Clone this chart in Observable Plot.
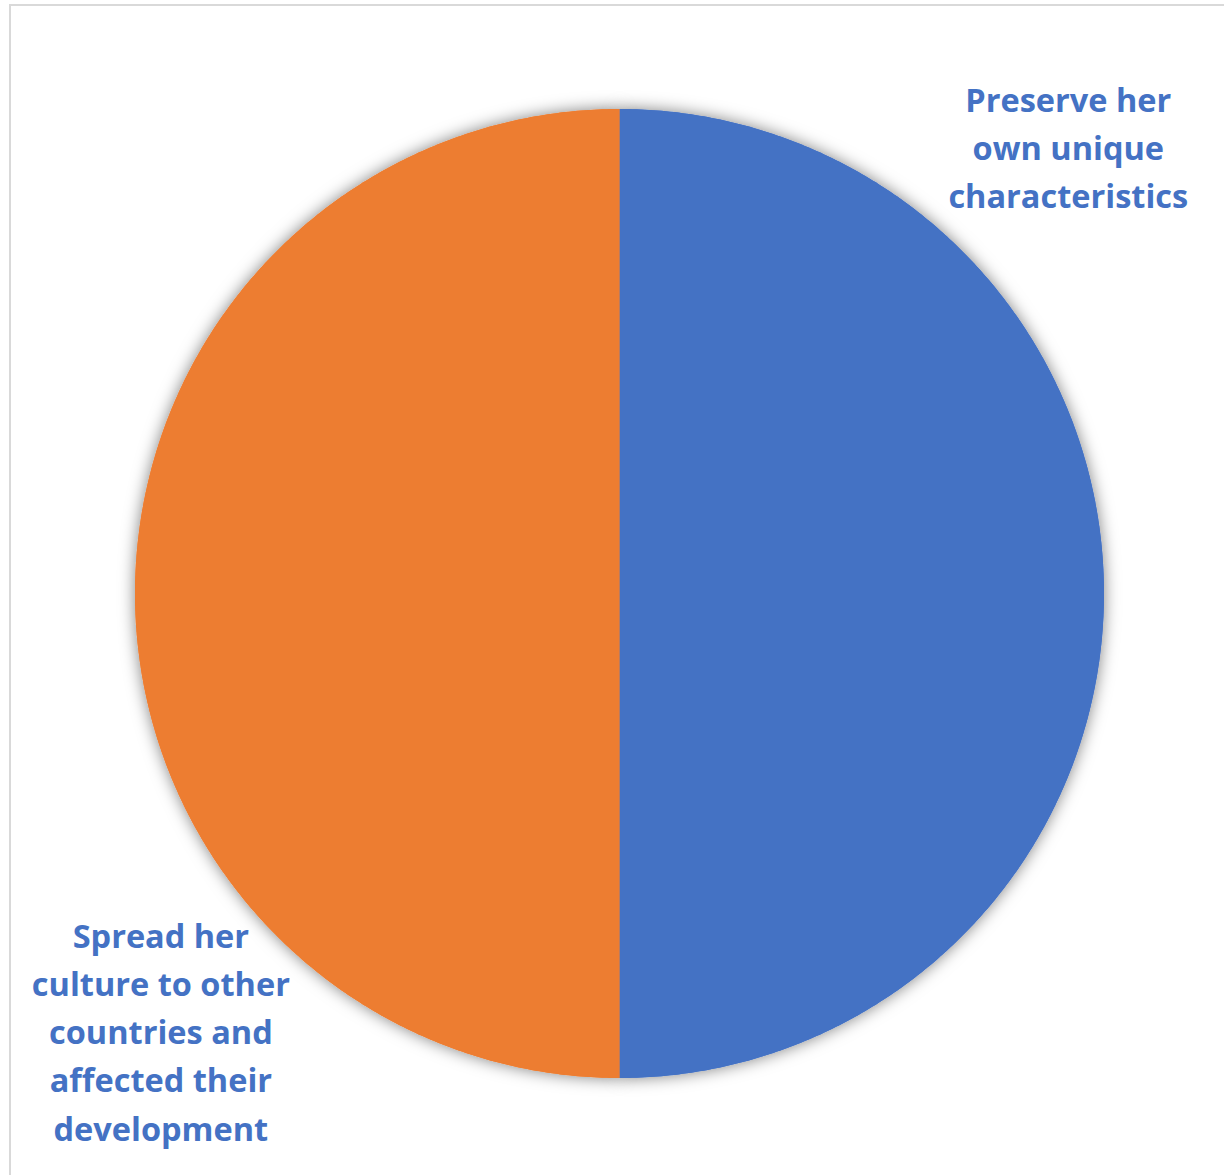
<!DOCTYPE html>
<html>
<head>
<meta charset="utf-8">
<script src="https://cdn.jsdelivr.net/npm/d3@7"></script>
<script src="https://cdn.jsdelivr.net/npm/@observablehq/plot@0.6"></script>
<style>
  html, body { margin: 0; padding: 0; background: #fff; overflow: hidden; }
  #wrap { position: relative; width: 1224px; height: 1175px; overflow: hidden; }
  #frame { position: absolute; left: 9px; top: 4px; width: 1400px; height: 1400px;
           border-left: 2px solid #d9d9d9; border-top: 2px solid #d9d9d9; }
  #chart { position: absolute; left: 0; top: 0; }
</style>
</head>
<body>
<div id="wrap"><div id="frame"></div><div id="chart"></div></div>
<script>
// Two answers, split evenly
const categories = [
  "Preserve her own unique characteristics",
  "Spread her culture to other countries and affected their development"
];
const values = [50, 50];
const labelLines = [
  "Preserve her\nown unique\ncharacteristics",
  "Spread her\nculture to other\ncountries and\naffected their\ndevelopment"
];
const colors = ["#4472C4", "#ED7D31"];

// Label placement: angle (degrees clockwise from 12 o'clock) and distance in radii
const labelAngle = [45, 226.5];
const labelRadius = [1.31, 1.305];

// Slice angles, starting at 12 o'clock and running clockwise
const arcs = d3.pie().sort(null).value(d => d.value)(
  categories.map((c, i) => ({category: c, value: values[i]}))
);

// Each slice as a closed polygon in unit-circle coordinates
const slicePolygons = arcs.map(a => {
  const pts = [{x: 0, y: 0}];
  const n = 360;
  for (let k = 0; k <= n; ++k) {
    const t = a.startAngle + (a.endAngle - a.startAngle) * k / n;
    pts.push({x: Math.sin(t), y: Math.cos(t)});
  }
  pts.push({x: 0, y: 0});
  return pts;
});

const labels = categories.map((c, i) => {
  const t = labelAngle[i] * Math.PI / 180;
  return {category: c, text: labelLines[i], x: labelRadius[i] * Math.sin(t), y: labelRadius[i] * Math.cos(t)};
});

const sliceMarks = role => slicePolygons.map((pts, i) => Plot.line(pts, {
  x: "x", y: "y", fill: colors[i], stroke: "none", curve: "linear", ariaDescription: role
}));

const chart = Plot.plot({
  width: 1224,
  height: 1175,
  marginLeft: 134.5,
  marginRight: 120.5,
  marginTop: 108.5,
  marginBottom: 97.5,
  x: {domain: [-1, 1], axis: null},
  y: {domain: [-1, 1], axis: null},
  style: {background: "transparent", overflow: "visible"},
  marks: [
    ...sliceMarks("slice-shadow"),
    ...sliceMarks("slice"),
    Plot.text(labels, {
      x: "x", y: "y", text: "text",
      fill: "#4472C4",
      fontSize: 32.5,
      fontWeight: "bold",
      fontFamily: "'Open Sans', sans-serif",
      lineHeight: 1.486,
      lineAnchor: "middle",
      textAnchor: "middle"
    })
  ]
});

// Soft shadow under each slice (overlapping near the seam)
const svg = d3.select(chart);
const defs = svg.insert("defs", ":first-child");
const f = defs.append("filter").attr("id", "pie-shadow")
  .attr("x", "-20%").attr("y", "-20%").attr("width", "140%").attr("height", "140%");
f.append("feDropShadow").attr("dx", 0).attr("dy", 0).attr("stdDeviation", 8)
  .attr("flood-color", "#000").attr("flood-opacity", 0.5);
svg.selectAll('g[aria-description="slice-shadow"]').attr("filter", "url(#pie-shadow)");

document.getElementById("chart").appendChild(chart);
</script>
</body>
</html>
